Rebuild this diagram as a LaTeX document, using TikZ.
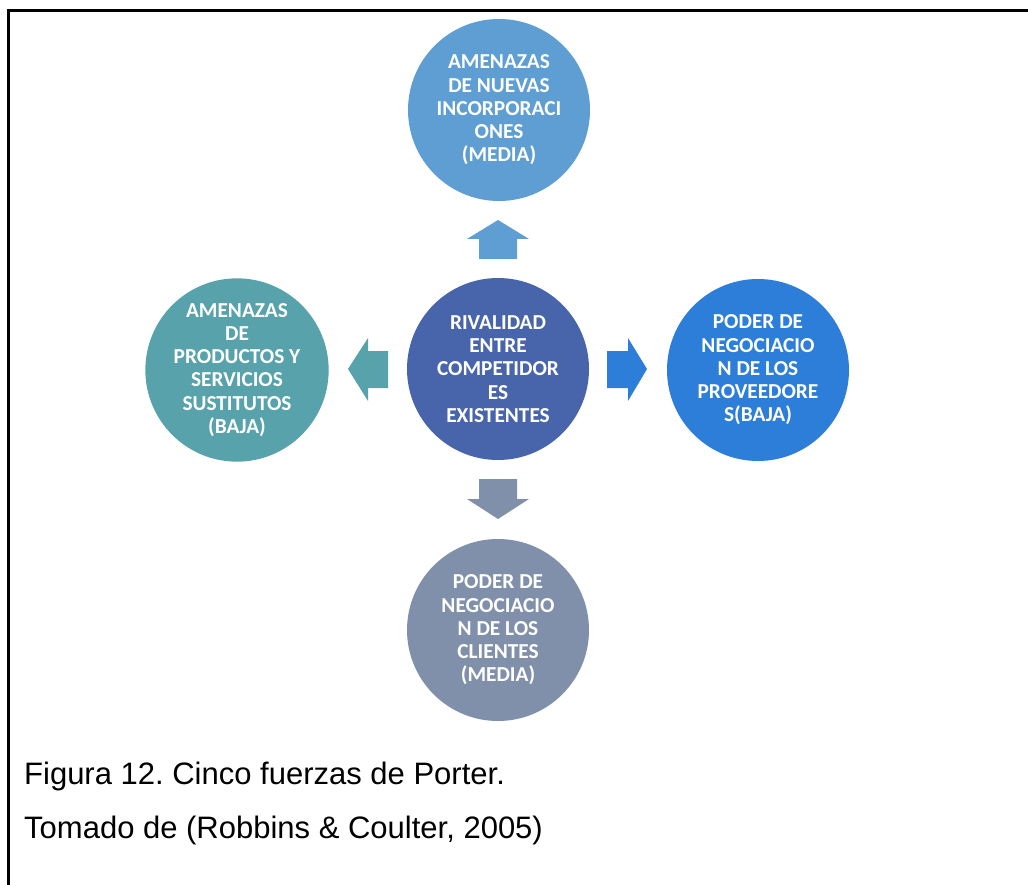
\documentclass[tikz,border=0pt]{standalone}
\usepackage{fontspec}
\setmainfont{Liberation Sans}
\newfontfamily\carlito{Carlito}
\frenchspacing
\definecolor{cTop}{RGB}{95,158,211}
\definecolor{cMid}{RGB}{72,101,172}
\definecolor{cRight}{RGB}{45,126,217}
\definecolor{cLeft}{RGB}{88,162,172}
\definecolor{cBottom}{RGB}{129,144,170}
\begin{document}
\begin{tikzpicture}[x=1pt,y=-1pt,
  force/.style={circle,minimum size=182pt,inner sep=0pt,text=white,align=center,
    font=\carlito\bfseries\fontsize{21.3}{23.2}\selectfont},
  caption/.style={anchor=base west,inner sep=0pt,font=\fontsize{31}{34}\selectfont}]
\useasboundingbox (0,0) rectangle (1028,885);
% open frame: left and top edges
\draw[line width=3pt] (8,885) -- (8,11) -- (1028,11);

% the five forces
\node[force,fill=cTop]    (top)    at (499,110) {AMENAZAS\\DE NUEVAS\\INCORPORACI\\ONES\\(MEDIA)};
\node[force,fill=cMid]    (mid)    at (498,369) {RIVALIDAD\\ENTRE\\COMPETIDOR\\ES\\EXISTENTES};
\node[force,fill=cLeft]   (left)   at (237,370) {AMENAZAS\\DE\\PRODUCTOS Y\\SERVICIOS\\SUSTITUTOS\\(BAJA)};
\node[force,fill=cRight]  (right)  at (758,370) {PODER DE\\NEGOCIACIO\\N DE LOS\\PROVEEDORE\\S(BAJA)};
\node[force,fill=cBottom] (bottom) at (498,630) {PODER DE\\NEGOCIACIO\\N DE LOS\\CLIENTES\\(MEDIA)};

% block arrows
\fill[cTop] (498,220) -- (529,239) -- (517,239) -- (517,259) -- (479,259) -- (479,239) -- (467,239) -- cycle;
\fill[cBottom] (498,519) -- (529,499) -- (517,499) -- (517,479) -- (479,479) -- (479,499) -- (467,499) -- cycle;
\fill[cLeft] (348,369) -- (368,338) -- (368,351) -- (388,351) -- (388,388) -- (368,388) -- (368,401) -- cycle;
\fill[cRight] (647,369) -- (628,338) -- (628,351) -- (607,351) -- (607,388) -- (628,388) -- (628,401) -- cycle;

% caption
\node[caption] (cap1) at (24,784) {Figura 12. Cinco fuerzas de Porter.};
\node[caption] (cap2) at (24,838) {Tomado de (Robbins \& Coulter, 2005)};
\end{tikzpicture}
\end{document}
